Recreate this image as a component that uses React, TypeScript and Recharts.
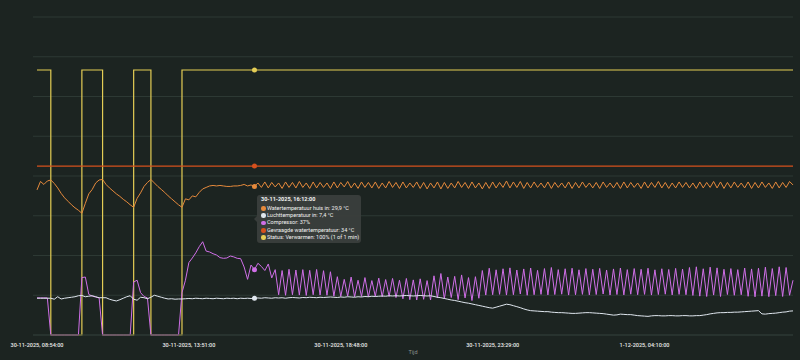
import { LineChart, Line, XAxis, YAxis, CartesianGrid, Tooltip, Label } from "recharts";

const BG = "#1c2421";
const GRID = "#2d3934";
const ORANGE = "#e68a3c";
const WHITE = "#dfe6ee";
const PURPLE = "#d06fe8";
const RED = "#d4501d";
const YELLOW = "#e4cd55";

// x positions are sample indexes, ticks every 44 samples
const TICK_INDEX = [0, 44, 88, 132, 176];
const TICK_LABELS = [
  "30-11-2025, 08:54:00",
  "30-11-2025, 13:51:00",
  "30-11-2025, 18:48:00",
  "30-11-2025, 23:29:00",
  "1-12-2025, 04:10:00",
];
const HOVER_INDEX = 63;
const HOVER_TIME = "30-11-2025, 16:12:00";

const WATER_TEMP = [
  29.2, 30.9, 30.3, 31.0, 31.2, 30.5, 29.6, 28.5, 27.6, 26.9,
  26.2, 25.6, 25.1, 24.5, 26.5, 28.4, 29.3, 30.6, 31.2, 31.3,
  30.3, 29.6, 29.0, 28.4, 27.9, 27.3, 26.8, 26.2, 25.7, 27.5,
  28.6, 29.9, 30.7, 31.3, 30.6, 29.9, 29.3, 28.7, 28.0, 27.4,
  26.8, 26.2, 25.7, 27.4, 27.2, 28.0, 27.8, 28.7, 29.4, 29.7,
  30.0, 30.1, 30.0, 30.1, 30.0, 29.9, 29.9, 30.0, 30.0, 30.1,
  30.3, 30.0, 30.2, 29.9, 30.6, 29.7, 30.8, 29.6, 30.7, 29.8,
  30.6, 29.5, 30.8, 29.7, 30.7, 29.6, 30.9, 29.7, 30.6, 29.5,
  30.8, 29.6, 30.7, 29.7, 30.6, 29.5, 30.8, 29.6, 30.7, 29.8,
  30.9, 29.6, 30.6, 29.5, 30.8, 29.7, 30.7, 29.6, 30.8, 29.5,
  30.6, 29.6, 30.9, 29.7, 30.7, 29.5, 30.8, 29.6, 30.6, 29.7,
  30.8, 29.5, 30.7, 29.4, 30.6, 29.6, 30.8, 29.4, 30.7, 29.5,
  30.6, 29.6, 30.9, 29.7, 30.7, 29.5, 30.8, 29.6, 30.6, 29.4,
  30.7, 29.5, 30.8, 29.6, 30.7, 29.7, 31.0, 29.6, 30.8, 29.7,
  30.9, 29.5, 30.7, 29.6, 30.8, 29.7, 30.6, 29.6, 30.8, 29.5,
  30.7, 29.7, 30.6, 29.6, 30.8, 29.5, 30.7, 29.6, 30.8, 29.7,
  30.6, 29.6, 30.7, 29.5, 30.8, 29.7, 30.6, 29.6, 30.7, 29.5,
  30.8, 29.6, 30.7, 29.7, 30.6, 29.5, 30.8, 29.6, 30.7, 29.7,
  30.9, 29.6, 30.7, 29.5, 30.6, 29.6, 30.8, 29.7, 30.7, 29.6,
  30.6, 29.5, 30.8, 29.6, 30.7, 29.7, 30.9, 29.6, 30.8, 29.5,
  30.7, 29.6, 30.8, 29.7, 30.6, 29.6, 30.8, 29.5, 30.7, 29.6,
  30.8, 29.7, 30.6, 29.5, 30.8, 29.6, 30.7, 29.7, 30.9, 30.2,
];

const AIR_TEMP = [
  7.4, 7.4, 7.4, 7.4, 7.4, 7.2, 7.7, 7.25, 7.4, 7.5,
  7.6, 7.7, 7.9, 7.95, 7.7, 7.8, 7.9, 7.7, 7.5, 7.5,
  7.5, 7.2, 7.0, 6.85, 7.1, 7.4, 7.7, 7.9, 7.2, 7.0,
  7.6, 7.5, 7.3, 7.6, 8.0, 7.8, 7.6, 7.4, 7.25, 7.3,
  7.2, 7.25, 7.25, 7.3, 7.35, 7.3, 7.4, 7.35, 7.3, 7.4,
  7.35, 7.3, 7.4, 7.35, 7.3, 7.4, 7.35, 7.4, 7.3, 7.4,
  7.35, 7.4, 7.35, 7.4, 7.45, 7.4, 7.5, 7.45, 7.4, 7.5,
  7.45, 7.5, 7.4, 7.5, 7.55, 7.5, 7.45, 7.55, 7.5, 7.6,
  7.55, 7.5, 7.6, 7.55, 7.6, 7.65, 7.6, 7.55, 7.65, 7.6,
  7.7, 7.65, 7.6, 7.7, 7.65, 7.75, 7.7, 7.8, 7.75, 7.8,
  7.85, 7.8, 7.9, 7.85, 7.9, 7.85, 7.9, 7.95, 7.9, 7.85,
  7.9, 7.95, 7.9, 7.85, 7.9, 7.75, 7.6, 7.5, 7.35, 7.2,
  7.05, 6.95, 6.8, 6.65, 6.5, 6.4, 6.25, 6.1, 5.95, 5.8,
  5.65, 5.5, 5.4, 5.6, 5.8, 6.0, 6.2, 6.1, 5.9, 5.7,
  5.5, 5.25, 5.05, 4.9, 4.85, 4.8, 4.75, 4.7, 4.7, 4.6,
  4.55, 4.5, 4.5, 4.45, 4.4, 4.35, 4.35, 4.4, 4.45, 4.5,
  4.5, 4.45, 4.4, 4.35, 4.3, 4.2, 4.1, 4.0, 4.05, 4.2,
  4.15, 4.1, 4.1, 4.0, 3.9, 3.85, 3.8, 3.75, 3.85, 3.9,
  3.9, 3.85, 3.85, 3.9, 3.9, 3.85, 3.85, 3.9, 3.9, 3.85,
  3.85, 3.9, 3.9, 4.0, 4.1, 4.25, 4.35, 4.45, 4.5, 4.5,
  4.55, 4.55, 4.6, 4.6, 4.65, 4.7, 4.75, 4.8, 4.85, 4.9,
  4.25, 4.2, 4.3, 4.35, 4.4, 4.5, 4.6, 4.65, 4.8, 4.85,
];

const COMPRESSOR = [
  21, 21, 21, 21, 0, 0, 0, 0, 0, 0,
  0, 0, 0, 32.5, 32.8, 23, 22, 21.5, 21, 0,
  0, 0, 0, 0, 0, 0, 0, 0, 30, 31,
  24, 21.8, 21, 0, 0, 0, 0, 0, 0, 0,
  0, 0, 24, 31, 41, 43.6, 46.5, 50, 52.8, 47.5,
  47, 46, 45.3, 43.8, 43.4, 43.6, 44.7, 44.2, 43.4, 43.2,
  38.5, 31.5, 39.6, 37, 40.6, 38.8, 36.5, 40.2, 32.3, 37.0,
  22.8, 36.5, 22.5, 37.2, 22.8, 36.8, 22.6, 37.0, 22.4, 36.6,
  22.8, 37.1, 22.6, 36.4, 22.5, 35.8, 22.0, 33.0, 21.8, 31.5,
  22.0, 32.8, 21.6, 31.0, 21.8, 32.5, 21.5, 30.8, 21.9, 32.2,
  21.6, 31.4, 21.8, 32.0, 21.2, 31.0, 20.5, 32.0, 20.0, 31.2,
  19.8, 31.8, 20.2, 30.8, 19.8, 33.5, 21.0, 34.8, 20.5, 32.8,
  21.2, 33.2, 20.0, 34.0, 21.0, 32.5, 19.5, 33.0, 20.8, 36.5,
  22.6, 37.8, 22.8, 36.9, 23.0, 37.5, 22.6, 38.0, 22.8, 36.8,
  23.2, 37.4, 22.5, 37.9, 22.8, 36.6, 23.0, 37.6, 22.7, 38.2,
  22.9, 37.0, 23.1, 37.5, 22.6, 37.8, 22.8, 36.9, 23.0, 37.6,
  22.7, 37.2, 22.9, 37.7, 23.2, 36.8, 22.6, 37.4, 22.9, 37.9,
  22.7, 37.0, 23.1, 37.6, 22.8, 37.2, 23.0, 37.8, 22.6, 36.9,
  22.9, 37.5, 23.1, 37.1, 22.7, 37.7, 23.0, 37.3, 22.8, 38.2,
  22.4, 38.6, 22.0, 37.5, 21.8, 38.4, 22.6, 38.0, 21.8, 37.2,
  22.9, 37.6, 22.5, 37.0, 22.8, 37.9, 21.9, 37.4, 21.6, 37.8,
  22.0, 38.4, 21.7, 37.6, 22.3, 38.6, 21.8, 38.2, 22.5, 31.0,
];

const DESIRED_TEMP = 34;

// status changes: [sample index, value in %]
const STATUS_CHANGES = [
  [0, 100],
  [4, 0],
  [13, 100],
  [19, 0],
  [28, 100],
  [33, 0],
  [42, 100],
];

function statusAt(i: number) {
  let v = 0;
  for (const [at, val] of STATUS_CHANGES) if (at <= i) v = val;
  return v;
}

const data = WATER_TEMP.map((water, i) => ({
  i,
  water,
  air: AIR_TEMP[i],
  comp: COMPRESSOR[i],
  desired: DESIRED_TEMP,
  status: statusAt(i),
}));

const dec = (v: number) => String(v).replace(".", ",");

const ROWS = [
  { key: "water", name: "Watertemperatuur huis in", color: ORANGE, fmt: (v: number) => `${dec(v)} °C` },
  { key: "air", name: "Luchttemperatuur in", color: WHITE, fmt: (v: number) => `${dec(v)} °C` },
  { key: "comp", name: "Compressor", color: PURPLE, fmt: (v: number) => `${dec(v)}%` },
  { key: "desired", name: "Gevraagde watertemperatuur", color: RED, fmt: (v: number) => `${dec(v)} °C` },
  { key: "status", name: "Status", color: YELLOW, fmt: (v: number) => `Verwarmen: ${v}% (1 of 1 min)` },
];

function TipBox({ active, payload }: any) {
  if (!active || !payload || !payload.length) return null;
  const row = payload[0].payload;
  return (
    <div
      style={{
        position: "relative",
        width: 104,
        boxSizing: "border-box",
        padding: "1px 4px 2px 4px",
        background: "rgba(58,63,61,0.94)",
        borderRadius: 3,
        color: "#f2f2f2",
        fontSize: 5.5,
        lineHeight: "7.3px",
        whiteSpace: "nowrap",
        fontFamily: "Roboto, sans-serif",
      }}
    >
      <div
        style={{
          position: "absolute",
          left: -3,
          top: 21,
          width: 0,
          height: 0,
          borderTop: "3px solid transparent",
          borderBottom: "3px solid transparent",
          borderRight: "3px solid rgba(58,63,61,0.94)",
        }}
      />
      <div style={{ fontWeight: 700, marginBottom: 1.5 }}>
        {row.i === HOVER_INDEX ? HOVER_TIME : TICK_LABELS[TICK_INDEX.indexOf(row.i)]}
      </div>
      {ROWS.map((r) => (
        <div key={r.key} style={{ display: "flex", alignItems: "center" }}>
          <span
            style={{
              display: "inline-block",
              flexShrink: 0,
              width: 4.5,
              height: 4.5,
              borderRadius: "50%",
              background: r.color,
              marginRight: 1.5,
            }}
          />
          <span>
            {r.name}: {r.fmt(row[r.key])}
          </span>
        </div>
      ))}
    </div>
  );
}

export default function App() {
  return (
    <div
      style={{
        position: "absolute",
        left: 0,
        top: 0,
        width: 800,
        height: 360,
        background: BG,
        fontFamily: "Roboto, sans-serif",
      }}
    >
      <LineChart width={800} height={360} data={data} margin={{ top: 17, right: 7, left: 33, bottom: 0 }}>
        <CartesianGrid yAxisId="temp" vertical={false} stroke={GRID} />
        <XAxis
          dataKey="i"
          type="number"
          domain={[0, WATER_TEMP.length - 1]}
          ticks={TICK_INDEX}
          interval={0}
          tickFormatter={(v) => TICK_LABELS[TICK_INDEX.indexOf(v)]}
          padding={{ left: 4, right: 0 }}
          tickLine={false}
          axisLine={{ stroke: GRID }}
          tick={{ fill: "#ececec", fontSize: 5.5, fontWeight: 500 }}
          height={25}
        >
          <Label value="Tijd" position="insideBottom" offset={6} fill="#8c928f" fontSize={5.5} />
        </XAxis>
        <YAxis yAxisId="temp" domain={[0, 64]} ticks={[0, 8, 16, 24, 32, 40, 48, 56, 64]} hide />
        <YAxis yAxisId="comp" domain={[0, 180]} hide />
        <YAxis yAxisId="status" domain={[0, 120]} hide />
        <Tooltip
          defaultIndex={HOVER_INDEX}
          position={{ x: 257, y: 195 }}
          cursor={false}
          isAnimationActive={false}
          wrapperStyle={{ outline: "none" }}
          content={<TipBox />}
        />
        <Line yAxisId="status" type="stepAfter" dataKey="status" stroke={YELLOW} strokeWidth={1.2} dot={false} activeDot={{ r: 2.5, fill: YELLOW, strokeWidth: 0 }} isAnimationActive={false} />
        <Line yAxisId="temp" type="linear" dataKey="desired" stroke={RED} strokeWidth={1.2} dot={false} activeDot={{ r: 2.5, fill: RED, strokeWidth: 0 }} isAnimationActive={false} />
        <Line yAxisId="comp" type="linear" dataKey="comp" stroke={PURPLE} strokeWidth={1} dot={false} activeDot={{ r: 2.5, fill: PURPLE, strokeWidth: 0 }} isAnimationActive={false} />
        <Line yAxisId="temp" type="linear" dataKey="air" stroke={WHITE} strokeWidth={1} dot={false} activeDot={{ r: 2.5, fill: WHITE, strokeWidth: 0 }} isAnimationActive={false} />
        <Line yAxisId="temp" type="linear" dataKey="water" stroke={ORANGE} strokeWidth={1} dot={false} activeDot={{ r: 2.5, fill: ORANGE, strokeWidth: 0 }} isAnimationActive={false} />
      </LineChart>
    </div>
  );
}
